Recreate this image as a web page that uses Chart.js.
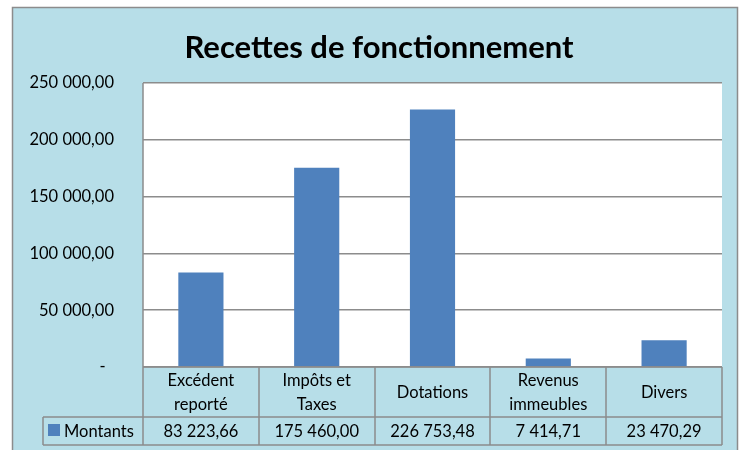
<!DOCTYPE html>
<html>
<head>
<meta charset="utf-8">
<script src="https://cdn.jsdelivr.net/npm/chart.js@4"></script>
<style>
  body { margin: 0; background: #ffffff; }
  canvas { display: block; }
</style>
</head>
<body>
<canvas id="chart" width="745" height="450"></canvas>
<script>
const title = "Recettes de fonctionnement";
const categories = [
  ["Excédent", "reporté"],
  ["Impôts et", "Taxes"],
  ["Dotations"],
  ["Revenus", "immeubles"],
  ["Divers"]
];
const seriesName = "Montants";
const montants = [83223.66, 175460.0, 226753.48, 7414.71, 23470.29];
const yTicks = [0, 50000, 100000, 150000, 200000, 250000];

const FONT = "Lato, 'Open Sans', sans-serif";
const BG = "#b7dee8";
const BAR = "#4f81bd";
const LINE = "#8c8c8c";
const FRAME_RIGHT = 737;

function frNumber(v) {
  const parts = v.toFixed(2).split(".");
  const int = parts[0].replace(/\B(?=(\d{3})+(?!\d))/g, " ");
  return int + "," + parts[1];
}

// background, title, white plot area
const framePlugin = {
  id: "frame",
  beforeDraw(chart) {
    const c = chart.ctx;
    const a = chart.chartArea;
    c.save();
    c.fillStyle = BG;
    c.fillRect(12, 7, FRAME_RIGHT - 12, chart.height - 7);
    c.strokeStyle = LINE;
    c.lineWidth = 1.5;
    c.beginPath();
    c.moveTo(12.5, chart.height);
    c.lineTo(12.5, 7.5);
    c.lineTo(FRAME_RIGHT + 0.5, 7.5);
    c.lineTo(FRAME_RIGHT + 0.5, chart.height);
    c.stroke();
    c.fillStyle = "#ffffff";
    c.fillRect(a.left, a.top, a.right - a.left, a.bottom - a.top);
    c.fillStyle = "#000000";
    c.font = "bold 31px " + FONT;
    c.textAlign = "center";
    c.textBaseline = "middle";
    c.fillText(title, 379, 48);
    c.restore();
  }
};

// data table under the x axis
const tablePlugin = {
  id: "dataTable",
  afterDraw(chart) {
    const c = chart.ctx;
    const a = chart.chartArea;
    const x = chart.scales.x;
    const n = categories.length;
    const w = (a.right - a.left) / n;
    const rowTop = a.bottom;
    const rowMid = a.bottom + 50;
    const rowBot = a.bottom + 78;
    const keyLeft = 43;

    c.save();
    c.strokeStyle = LINE;
    c.lineWidth = 1.5;
    c.beginPath();
    c.moveTo(a.left, rowTop); c.lineTo(a.right, rowTop);
    c.moveTo(keyLeft, rowMid); c.lineTo(a.right, rowMid);
    c.moveTo(keyLeft, rowBot); c.lineTo(a.right, rowBot);
    c.moveTo(a.left, a.top); c.lineTo(a.left, rowBot);
    c.moveTo(keyLeft, rowMid); c.lineTo(keyLeft, rowBot);
    for (let i = 0; i < n; i++) {
      const r = Math.round(x.getPixelForValue(i) + w / 2);
      c.moveTo(r, rowTop); c.lineTo(r, rowBot);
    }
    c.stroke();

    c.fillStyle = "#000000";
    c.font = "16.5px " + FONT;
    c.textAlign = "center";
    c.textBaseline = "middle";
    const lh = 24;
    for (let i = 0; i < n; i++) {
      const cx = x.getPixelForValue(i);
      const lines = categories[i];
      const y0 = (rowTop + rowMid) / 2 + 1 - (lines.length - 1) * lh / 2;
      lines.forEach((t, j) => c.fillText(t, cx, y0 + j * lh));
      c.fillText(frNumber(montants[i]), cx, (rowMid + rowBot) / 2 + 1);
    }
    c.fillStyle = BAR;
    c.fillRect(keyLeft + 5, rowMid + 7, 12, 12);
    c.fillStyle = "#000000";
    c.textAlign = "left";
    c.fillText(seriesName, keyLeft + 21, (rowMid + rowBot) / 2 + 1);
    c.restore();
  }
};

new Chart(document.getElementById("chart"), {
  type: "bar",
  data: {
    labels: categories.map(l => l.join(" ")),
    datasets: [{
      label: seriesName,
      data: montants,
      backgroundColor: BAR,
      categoryPercentage: 1,
      barPercentage: 0.39
    }]
  },
  options: {
    responsive: false,
    animation: false,
    layout: { padding: { left: 12, top: 83, right: 23, bottom: 83 } },
    plugins: { legend: { display: false }, tooltip: { enabled: false } },
    scales: {
      x: { display: false },
      y: {
        min: 0,
        max: 250000,
        afterFit(scale) { scale.width = 131; },
        afterBuildTicks(scale) { scale.ticks = yTicks.map(v => ({ value: v })); },
        border: { display: false },
        grid: { color: LINE, lineWidth: 1.5, drawTicks: false },
        ticks: {
          padding: 29,
          color: "#000000",
          font: { family: FONT, size: 16.5 },
          callback: v => v === 0 ? "-  " : frNumber(v)
        }
      }
    }
  },
  plugins: [framePlugin, tablePlugin]
});
</script>
</body>
</html>
